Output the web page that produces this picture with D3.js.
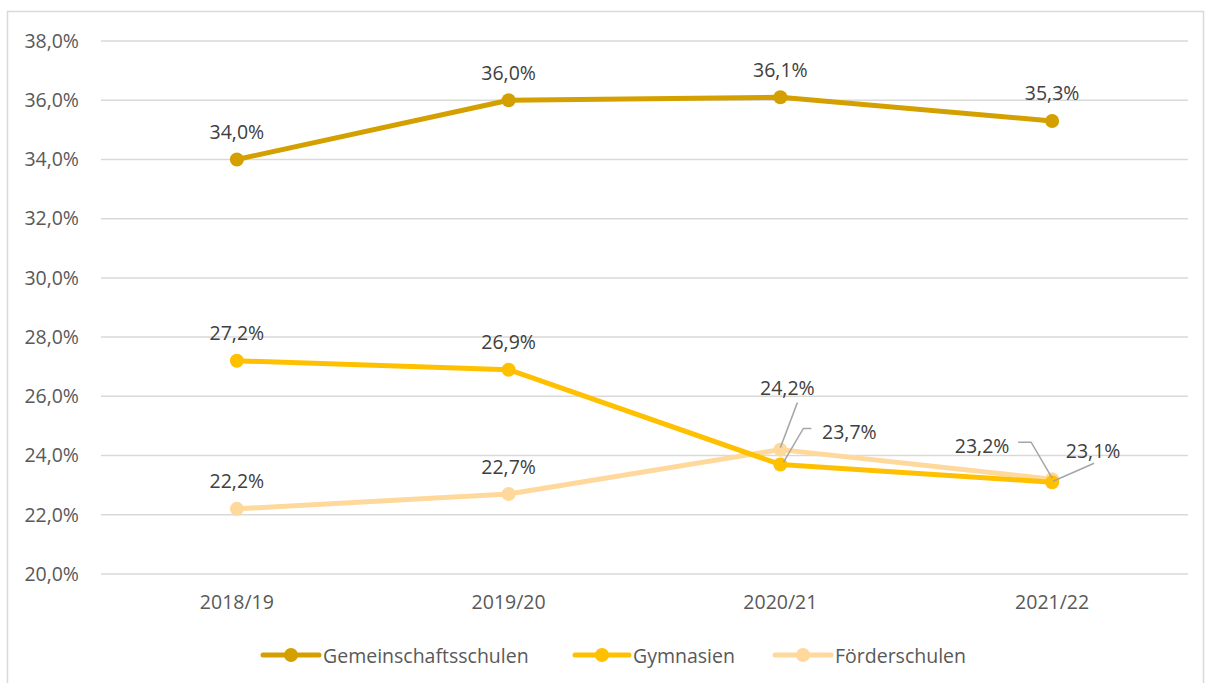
<!DOCTYPE html>
<html>
<head>
<meta charset="utf-8">
<script src="https://cdn.jsdelivr.net/npm/d3@7"></script>
<style>
  html, body { margin: 0; padding: 0; background: #fff; }
  svg { display: block; font-family: "Open Sans", "Noto Sans", sans-serif; }
</style>
</head>
<body>
<svg id="chart" width="1206" height="683"></svg>
<script>
// School years on the x axis
const years = ["2018/19", "2019/20", "2020/21", "2021/22"];

// Shares per school type (percent)
const gemeinschaftsschulen = [34.0, 36.0, 36.1, 35.3];
const gymnasien = [27.2, 26.9, 23.7, 23.1];
const foerderschulen = [22.2, 22.7, 24.2, 23.2];

// Y axis ticks (percent)
const yTicks = [20, 22, 24, 26, 28, 30, 32, 34, 36, 38];

const seriesNames = ["Gemeinschaftsschulen", "Gymnasien", "Förderschulen"];
const seriesColors = ["#D4A000", "#FFC000", "#FFD89C"];

const series = [
  { name: seriesNames[0], values: gemeinschaftsschulen, color: seriesColors[0] },
  { name: seriesNames[1], values: gymnasien, color: seriesColors[1] },
  { name: seriesNames[2], values: foerderschulen, color: seriesColors[2] }
];

const fmt = v => d3.format(".1f")(v).replace(".", ",") + "%";

const svg = d3.select("#chart");
const textColor = "#595959";
const gridColor = "#d9d9d9";
const fontSize = 19.5;

// Outer frame
svg.append("rect")
  .attr("x", 7.5).attr("y", 11.5)
  .attr("width", 1196).attr("height", 680)
  .attr("fill", "none").attr("stroke", gridColor).attr("stroke-width", 1.5);

const plot = { left: 101, right: 1188, top: 41, bottom: 574 };

const x = d3.scaleBand().domain(years).range([plot.left, plot.right]);
const xc = d => x(d) + x.bandwidth() / 2;
const y = d3.scaleLinear().domain([20, 38]).range([plot.bottom, plot.top]);

// Horizontal gridlines
svg.append("g").selectAll("line").data(yTicks).join("line")
  .attr("x1", plot.left).attr("x2", plot.right)
  .attr("y1", d => y(d)).attr("y2", d => y(d))
  .attr("stroke", gridColor).attr("stroke-width", 1.5);

// Y axis labels
const yAxis = d3.axisLeft(y).tickValues(yTicks).tickFormat(fmt).tickSize(0).tickPadding(22);
svg.append("g").attr("transform", `translate(${plot.left},0)`).call(yAxis)
  .call(g => g.select(".domain").remove())
  .call(g => g.selectAll("text")
    .attr("fill", textColor).attr("font-size", fontSize)
    .attr("font-family", "'Open Sans', sans-serif"));

// X axis labels
const xAxis = d3.axisBottom(x).tickSize(0).tickPadding(21);
svg.append("g").attr("transform", `translate(0,${plot.bottom})`).call(xAxis)
  .call(g => g.select(".domain").remove())
  .call(g => g.selectAll("text")
    .attr("fill", textColor).attr("font-size", fontSize)
    .attr("font-family", "'Open Sans', sans-serif"));

// Lines and markers, drawn bottom series first so the darker lines sit on top
const line = d3.line().x((d, i) => xc(years[i])).y(d => y(d));
const drawOrder = [2, 1, 0];
drawOrder.forEach(si => {
  const s = series[si];
  const g = svg.append("g");
  g.append("path").datum(s.values)
    .attr("d", line).attr("fill", "none")
    .attr("stroke", s.color).attr("stroke-width", 5)
    .attr("stroke-linejoin", "round").attr("stroke-linecap", "round");
  g.selectAll("circle").data(s.values).join("circle")
    .attr("cx", (d, i) => xc(years[i])).attr("cy", d => y(d))
    .attr("r", 7).attr("fill", s.color);
});

// Value labels: default sits above the point; some get a leader line
// offsets: [dx, dy] of label centre relative to the point; leader: points relative to point
const labelOffsets = {
  "0-0": [0, -28], "0-1": [0, -28], "0-2": [0, -28], "0-3": [0, -28],
  "1-0": [0, -28], "1-1": [0, -28],
  "1-2": { off: [69, -33], leader: [[31, -36], [23, -36], [3, -2]] },
  "1-3": { off: [41, -32], leader: [[42, -19], [1, -1]] },
  "2-0": [0, -28], "2-1": [0, -28],
  "2-2": { off: [7, -62], leader: [[17, -47], [0, -2]] },
  "2-3": { off: [-70, -34], leader: [[-34, -37], [-21, -37], [0, -1]] }
};

const labels = svg.append("g");
series.forEach((s, si) => {
  s.values.forEach((v, i) => {
    const px = xc(years[i]), py = y(v);
    const spec = labelOffsets[`${si}-${i}`];
    const off = Array.isArray(spec) ? spec : spec.off;
    if (!Array.isArray(spec) && spec.leader) {
      labels.append("polyline")
        .attr("points", spec.leader.map(p => `${px + p[0]},${py + p[1]}`).join(" "))
        .attr("fill", "none").attr("stroke", "#a6a6a6").attr("stroke-width", 1.5);
    }
    labels.append("text")
      .attr("x", px + off[0]).attr("y", py + off[1])
      .attr("text-anchor", "middle").attr("dominant-baseline", "central")
      .attr("fill", "#404040").attr("font-size", fontSize)
      .text(fmt(v));
  });
});

// Legend
const legendItems = [
  { x: 263, textX: 323 },
  { x: 575, textX: 633 },
  { x: 775, textX: 835 }
];
const legendY = 655;
const legend = svg.append("g");
series.forEach((s, i) => {
  const it = legendItems[i];
  legend.append("line")
    .attr("x1", it.x).attr("x2", it.textX - 4)
    .attr("y1", legendY).attr("y2", legendY)
    .attr("stroke", s.color).attr("stroke-width", 5).attr("stroke-linecap", "round");
  legend.append("circle")
    .attr("cx", (it.x + it.textX - 4) / 2).attr("cy", legendY).attr("r", 7).attr("fill", s.color);
  legend.append("text")
    .attr("x", it.textX).attr("y", legendY)
    .attr("dominant-baseline", "central")
    .attr("fill", textColor).attr("font-size", fontSize)
    .text(s.name);
});
</script>
</body>
</html>
